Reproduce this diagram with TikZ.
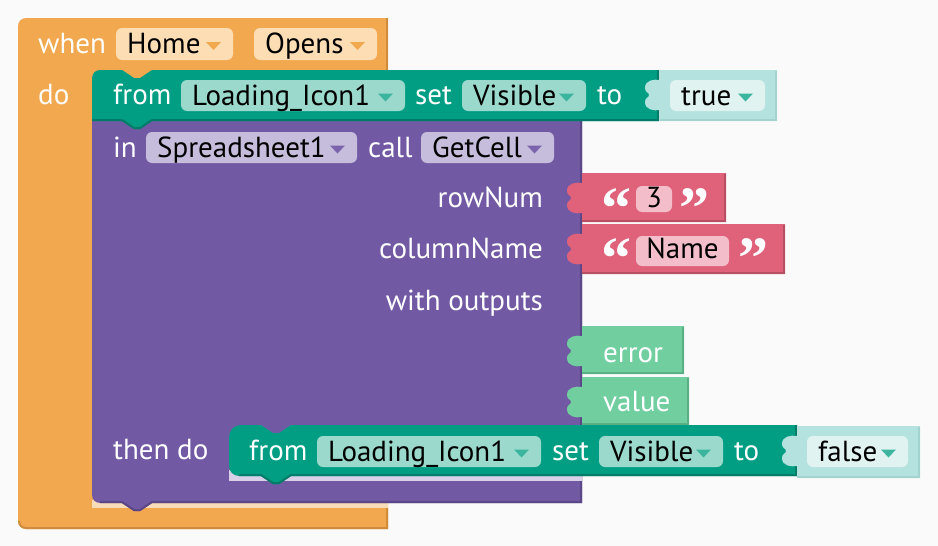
\documentclass[tikz,border=0pt]{standalone}
\usepackage{fontspec}
\setmainfont{PT Sans}
\newfontfamily\quotefont{Liberation Serif}
\definecolor{bgc}{HTML}{FAFAFA}
\definecolor{orangeB}{HTML}{F2A84E}
\definecolor{orangeD}{HTML}{D08B3C}
\definecolor{orangeF}{HTML}{FDDDB4}
\definecolor{tealB}{HTML}{019E84}
\definecolor{tealD}{HTML}{017C68}
\definecolor{tealF}{HTML}{9AD9CC}
\definecolor{tealA}{HTML}{3CB59E}
\definecolor{ltB}{HTML}{B4E2DE}
\definecolor{ltD}{HTML}{A3D3CE}
\definecolor{ltF}{HTML}{E0F3F1}
\definecolor{purpleB}{HTML}{7259A4}
\definecolor{purpleD}{HTML}{5B4687}
\definecolor{purpleF}{HTML}{C6BCDB}
\definecolor{purpleA}{HTML}{7B63AD}
\definecolor{redB}{HTML}{E0617A}
\definecolor{redD}{HTML}{B74E63}
\definecolor{redF}{HTML}{F3BECA}
\definecolor{greenB}{HTML}{71CF9F}
\definecolor{greenD}{HTML}{5BAF85}
\definecolor{bandO}{HTML}{F9DDB8}
\definecolor{bandP}{HTML}{D9D1EA}
\newcommand\ddfield[8]{%
  \fill[#5,rounded corners=6pt] (#1,#2) rectangle (#3,#4);
  \node[fieldtxt] (#8) at ({#1+11},{(#2+#4)/2+9.5}) {#7};
  \fill[#6] ({#3-27},{(#2+#4)/2-2}) -- ({#3-12},{(#2+#4)/2-2}) -- ({#3-19.5},{(#2+#4)/2+6}) -- cycle;
}
\newcommand\valblock[6]{%
  \fill[#5] (#1,#2) -- (#3,#2) -- (#3,#4) -- (#1,#4) -- (#1,{#2+40})
   .. controls ({#1-6},{#2+41}) and ({#1-15},{#2+40}) .. ({#1-15},{#2+32})
   .. controls ({#1-15},{#2+27}) and ({#1-11},{#2+28}) .. ({#1-11},{#2+25})
   .. controls ({#1-11},{#2+22}) and ({#1-15},{#2+23}) .. ({#1-15},{#2+18})
   .. controls ({#1-15},{#2+10}) and ({#1-6},{#2+9}) .. (#1,{#2+10}) -- cycle;
  \draw[#6,line width=2pt] ({#3-1},{#2+1}) -- ({#3-1},{#4-1}) -- (#1,{#4-1});
}
\begin{document}
\begin{tikzpicture}[x=1pt,y=-1pt,
  lbl/.style={anchor=base west,inner sep=0pt,text=white,font=\fontsize{29}{33}\selectfont},
  lblr/.style={lbl,anchor=base east},
  fieldtxt/.style={anchor=base west,inner sep=0pt,text=black,font=\fontsize{29}{33}\selectfont},
  quot/.style={anchor=base west,inner sep=0pt,text=white,font=\fontsize{60}{60}\quotefont\bfseries}]
\useasboundingbox (0,0) rectangle (938,546);
\fill[bgc] (0,0) rectangle (938,546);
% orange event block
\fill[orangeB] (18,521) -- (18,26) .. controls (18,21.6) and (21.6,18) .. (26,18) -- (388,18) -- (388,529) -- (26,529) .. controls (21.6,529) and (18,525.4) .. (18,521) -- cycle;
\draw[orangeD,line width=2pt] (387,18) -- (387,70);
\draw[orangeD,line width=2pt] (387,508) -- (387,528) -- (26,528) .. controls (22,528) and (19,525) .. (19,521);
\fill[bandO] (92,500) rectangle (388,508);
\node[lbl] (when) at (38,53) {when};
\ddfield{116}{28}{233}{60}{orangeF}{orangeB}{Home}{home}
\ddfield{254}{28}{377}{60}{orangeF}{orangeB}{Opens}{opens}
\node[lbl] (do) at (38,104) {do};
% purple block
\fill[purpleB] (92,121) -- (582,121) -- (582,503) -- (152,503) -- (140,511) -- (134,511) -- (122,503) -- (100,503) .. controls (95.6,503) and (92,499.4) .. (92,495) -- cycle;
\draw[purpleD,line width=2pt] (581,121) -- (581,502) -- (152,502) -- (140,510) -- (134,510) -- (122,502) -- (100,502);
% first teal statement
\fill[tealB] (92,121) -- (92,78) .. controls (92,73.6) and (95.6,70) .. (100,70) -- (122,70) -- (134,78) -- (140,78) -- (152,70) -- (659,70) -- (659,121) -- (152,121) -- (140,129) -- (134,129) -- (122,121) -- cycle;
\draw[tealD,line width=2pt] (658,70) -- (658,120) -- (152,120) -- (140,128) -- (134,128) -- (122,120) -- (92,120);
\node[lbl] (from1) at (113,104) {from};
\ddfield{181}{80}{405}{111}{tealF}{tealA}{Loading\_Icon1}{comp1}
\node[lbl] (set1) at (415,104) {set};
\ddfield{462}{80}{586}{111}{tealF}{tealA}{Visible}{prop1}
\node[lbl] (to1) at (597,104) {to};
\valblock{660}{70}{777}{121}{ltB}{ltD}
\ddfield{670}{80}{765}{111}{ltF}{tealA}{true}{true}
% purple contents
\node[lbl] (in) at (113,157) {in};
\ddfield{146}{132}{357}{163}{purpleF}{purpleA}{Spreadsheet1}{sheet}
\node[lbl] (call) at (368,157) {call};
\ddfield{421}{132}{554}{163}{purpleF}{purpleA}{GetCell}{getcell}
\node[lblr] (rownum) at (543,207) {rowNum};
\node[lblr] (colname) at (543,258) {columnName};
\node[lblr] (without) at (543,310) {with outputs};
% text blocks
\valblock{582}{173}{726}{222}{redB}{redD}
\fill[redF,rounded corners=6pt] (636,186) rectangle (672,212);
\node[fieldtxt,anchor=base] (three) at (654,207) {3};
\node[quot] (q1l) at (601,228) {“};
\node[quot] (q1r) at (679,228) {”};
\valblock{582}{224}{785}{274}{redB}{redD}
\fill[redF,rounded corners=6pt] (636,236) rectangle (729,266);
\node[fieldtxt,anchor=base] (name) at (682.5,258) {Name};
\node[quot] (q2l) at (601,278) {“};
\node[quot] (q2r) at (738,278) {”};
% output variables
\valblock{582}{326}{684}{374}{greenB}{greenD}
\node[lbl] (error) at (603,362) {error};
\valblock{582}{377}{689}{425}{greenB}{greenD}
\node[lbl] (value) at (603,411) {value};
% then do
\node[lbl] (thendo) at (113,459) {then do};
\fill[bandP] (229,470) rectangle (582,481);
\fill[tealB] (229,466) -- (229,437) .. controls (229,430.4) and (234.4,425) .. (241,425) -- (261,425) -- (273,433) -- (279,433) -- (291,425) -- (797,425) -- (797,476) -- (291,476) -- (279,484) -- (273,484) -- (261,476) -- (239,476) .. controls (233.5,476) and (229,471.5) .. (229,466) -- cycle;
\draw[tealD,line width=2pt] (796,425) -- (796,475) -- (291,475) -- (279,483) -- (273,483) -- (261,475) -- (239,475);
\node[lbl] (from2) at (249,460) {from};
\ddfield{317}{436}{541}{467}{tealF}{tealA}{Loading\_Icon1}{comp2}
\node[lbl] (set2) at (552,460) {set};
\ddfield{599}{436}{723}{467}{tealF}{tealA}{Visible}{prop2}
\node[lbl] (to2) at (734,460) {to};
\valblock{797}{426}{920}{478}{ltB}{ltD}
\ddfield{807}{436}{908}{467}{ltF}{tealA}{false}{false}
\end{tikzpicture}
\end{document}
